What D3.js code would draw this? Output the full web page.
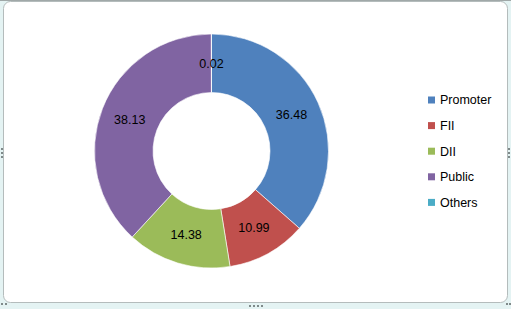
<!DOCTYPE html>
<html>
<head>
<meta charset="utf-8">
<style>
  body { margin: 0; background: #e4f3f3; }
  svg { display: block; font-family: "Liberation Sans", Arial, sans-serif; }
</style>
</head>
<body>
<script src="https://cdn.jsdelivr.net/npm/d3@7/dist/d3.min.js"></script>
<script>
// shareholding data
var categories = ["Promoter", "FII", "DII", "Public", "Others"];
var values = [36.48, 10.99, 14.38, 38.13, 0.02];
var colors = ["#4f81bd", "#c0504d", "#9bbb59", "#8064a2", "#4bacc6"];

var W = 511, H = 309;

var svg = d3.select("body").append("svg")
    .attr("width", W)
    .attr("height", H);

// outer frame (excel style chart container)
svg.append("rect")
    .attr("x", 0).attr("y", 0)
    .attr("width", W).attr("height", H)
    .attr("fill", "#e4f3f3");
svg.append("line")
    .attr("x1", 0).attr("x2", W).attr("y1", 0.5).attr("y2", 0.5)
    .attr("stroke", "#a0a8a8");
svg.append("rect")
    .attr("x", 3.5).attr("y", 1.5)
    .attr("width", 504).attr("height", 301)
    .attr("rx", 7).attr("ry", 7)
    .attr("fill", "#ffffff")
    .attr("stroke", "#b4bcbc");

// little resize handles
var handles = [[1, 148], [1, 152], [1, 156], [508, 148], [508, 152], [508, 156],
               [249, 305], [253, 305], [257, 305], [261, 305],
               [1, 303], [5, 303], [506, 303], [509, 303]];
svg.selectAll(".handle").data(handles).enter().append("rect")
    .attr("class", "handle")
    .attr("x", function(d) { return d[0]; })
    .attr("y", function(d) { return d[1]; })
    .attr("width", 2).attr("height", 2)
    .attr("fill", "#7f8a8a");

// donut
var cx = 211.5, cy = 151, outerR = 117, innerR = 58.5;
var g = svg.append("g").attr("transform", "translate(" + cx + "," + cy + ")");

var pie = d3.pie().sort(null).value(function(d) { return d; });
var arc = d3.arc().innerRadius(innerR).outerRadius(outerR);
var labelArc = d3.arc().innerRadius((innerR + outerR) / 2).outerRadius((innerR + outerR) / 2);

var arcs = pie(values);

g.selectAll("path").data(arcs).enter().append("path")
    .attr("d", arc)
    .attr("fill", function(d, i) { return colors[i]; })
    .attr("stroke", "#ffffff")
    .attr("stroke-width", 0.6);

g.selectAll(".lbl").data(arcs).enter().append("text")
    .attr("class", "lbl")
    .attr("transform", function(d) { return "translate(" + labelArc.centroid(d) + ")"; })
    .attr("text-anchor", "middle")
    .attr("dy", "0.35em")
    .style("font-size", "12.5px")
    .style("fill", "#000")
    .text(function(d) { return d.data.toFixed(2); });

// legend
var legend = svg.append("g").attr("transform", "translate(428,100)");
var row = legend.selectAll("g").data(categories).enter().append("g")
    .attr("transform", function(d, i) { return "translate(0," + (i * 25.6) + ")"; });
row.append("rect")
    .attr("x", 0).attr("y", -3.5)
    .attr("width", 7).attr("height", 7)
    .attr("fill", function(d, i) { return colors[i]; });
row.append("text")
    .attr("x", 12)
    .attr("dy", "0.35em")
    .style("font-size", "12.5px")
    .text(function(d) { return d; });
</script>
</body>
</html>
